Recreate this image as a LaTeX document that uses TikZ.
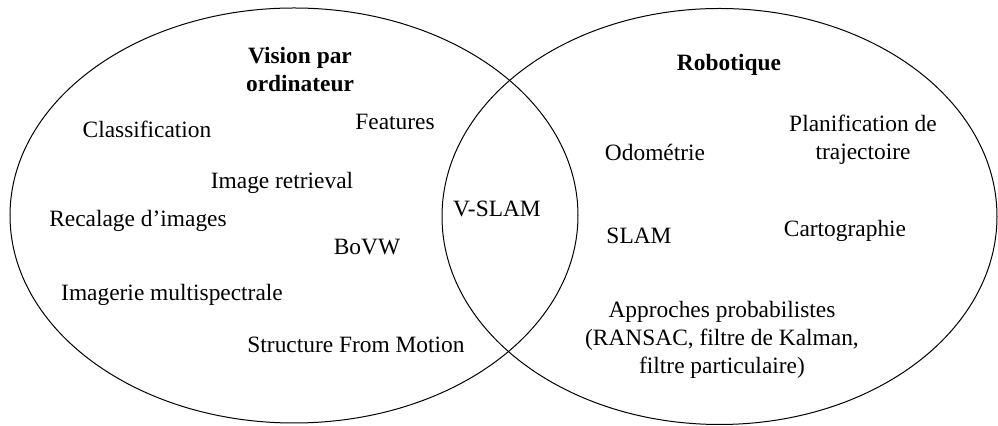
\documentclass[tikz,border=0pt]{standalone}
\usepackage{fontspec}
\setmainfont{Liberation Serif}
\begin{document}
\begin{tikzpicture}[x=0.5pt,y=-0.5pt,
  lbl/.style={inner sep=0pt, align=center, font=\fontsize{11.7}{14}\selectfont},
  ttl/.style={lbl, font=\fontsize{11.7}{14}\selectfont\bfseries},
  set/.style={draw=black, line width=0.5pt}]
\useasboundingbox (0,0) rectangle (998,426);
\draw[set] (294,215.5) ellipse [x radius=142pt, y radius=103.75pt];
\draw[set] (719.5,216.5) ellipse [x radius=138.75pt, y radius=104pt];
% left
\node[ttl] (cv) at (300,70) {Vision par\\ordinateur};
\node[lbl] (cls) at (147,129) {Classification};
\node[lbl] (feat) at (395,122) {Features};
\node[lbl] (ir) at (282,183) {Image retrieval};
\node[lbl] (rec) at (138,221) {Recalage d’images};
\node[lbl] (bovw) at (367,247) {BoVW};
\node[lbl] (ims) at (172,295) {Imagerie multispectrale};
\node[lbl] (sfm) at (356,345) {Structure From Motion};
% middle
\node[lbl] (vslam) at (497,209) {V-SLAM};
% right
\node[ttl] (rob) at (729,65) {Robotique};
\node[lbl] (plan) at (863,140) {Planification de\\trajectoire};
\node[lbl] (odo) at (655,152) {Odométrie};
\node[lbl] (slam) at (639,236) {SLAM};
\node[lbl] (carto) at (845,231) {Cartographie};
\node[lbl] (prob) at (722,340) {Approches probabilistes\\(RANSAC, filtre de Kalman,\\filtre particulaire)};
\end{tikzpicture}
\end{document}
